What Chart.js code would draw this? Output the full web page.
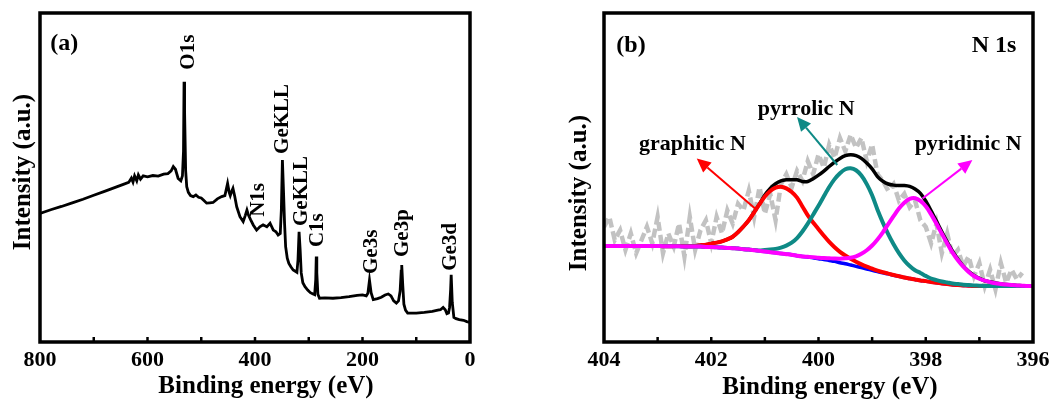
<!DOCTYPE html>
<html><head><meta charset="utf-8">
<script src="https://cdn.jsdelivr.net/npm/chart.js@4.4.0/dist/chart.umd.min.js"></script>
<style>
html,body{margin:0;padding:0;background:#fff;}
#wrap{position:relative;width:1056px;height:405px;background:#fff;}
#ca{position:absolute;left:0;top:0;width:520px;height:405px;}
#cb{position:absolute;left:520px;top:0;width:536px;height:405px;}
</style></head><body>
<div id="wrap">
<canvas id="ca" width="520" height="405"></canvas>
<canvas id="cb" width="536" height="405"></canvas>
</div>
<script>
// ---------- Panel (a): XPS survey ----------
const surveyE = [800,780,760,740,720,700,680,660,645,635,630,627,624,620,617,613,608,600,590,580,570,562,556,552,548,543,538,535,533,532,531,529,527,524,520,515,510,505,500,495,490,484,478,470,462,456,451,448,446,444,441,438,434,428,422,418,415,412,408,403,397,391,385,378,372,366,361,357,353,351,349,347,345,343,340,337,333,329,325,322,320,318,316,314,311,307,302,297,292,289,287,286,285,283,280,270,255,240,225,210,200,193,190,187,184,180,172,165,158,152,147,142,137,133,130,128,127,125,123,120,116,110,100,85,70,60,55,50,46,43,40,38,36,35,33,30,26,20,12,6,0];
const surveyI = [39.1,40.2,41.2,42.3,43.4,44.6,45.8,47.0,47.9,48.5,49.8,48.6,50.5,49.0,50.8,49.5,50.5,50.2,50.6,50.4,51.0,51.2,52.0,53.3,52.5,49.7,49.0,50.5,58.0,79.1,70.0,52.0,47.2,45.5,44.5,44.2,44.7,44.0,43.8,43.0,42.2,42.3,42.4,43.5,44.2,44.5,48.2,45.5,44.5,45.5,46.7,44.5,41.1,38.1,36.6,38.5,40.1,38.5,37.1,35.5,34.0,35.0,35.6,35.0,36.1,34.0,33.5,32.5,33.0,40.0,55.3,46.0,36.0,29.0,25.5,23.9,22.8,21.9,21.5,21.2,25.0,33.5,28.0,21.0,18.0,16.8,15.8,15.0,14.6,14.4,19.0,26.0,21.0,14.5,13.3,13.4,13.3,13.5,13.8,14.2,14.3,14.0,14.8,18.8,15.0,12.9,13.2,13.6,14.3,14.6,14.0,12.5,11.8,12.5,15.5,21.5,23.4,17.0,11.5,9.7,8.8,8.8,8.8,9.0,9.3,9.7,9.8,10.5,9.8,8.6,8.8,10.5,16.0,20.4,12.0,7.5,7.1,6.8,6.6,6.2,6.0];
const surveyPeakNames = ['O1s','GeKLL','N1s','GeKLL','C1s','Ge3s','Ge3p','Ge3d'];
const surveyPeakLabelE = [523,348,394,313,283,184,125,37];
const surveyPeakLabelI = [88.1,67.8,43.2,45.9,34.0,27.4,33.1,28.9];
const surveyTicksMinor = [700,600,500,400,300,200,100];

// ---------- Panel (b): N 1s high resolution ----------
const nE = [404.0,403.9,403.8,403.7,403.6,403.5,403.4,403.3,403.2,403.1,403.0,402.9,402.8,402.7,402.6,402.5,402.4,402.3,402.2,402.1,402.0,401.9,401.8,401.7,401.6,401.5,401.4,401.3,401.2,401.1,401.0,400.9,400.8,400.7,400.6,400.5,400.4,400.3,400.2,400.1,400.0,399.9,399.8,399.7,399.6,399.5,399.4,399.3,399.2,399.1,399.0,398.9,398.8,398.7,398.6,398.5,398.4,398.3,398.2,398.1,398.0,397.9,397.8,397.7,397.6,397.5,397.4,397.3,397.2,397.1,397.0,396.9,396.8,396.7,396.6,396.5,396.4,396.3,396.2,396.1,396.0];
const rawI = [35,38,31,34,28,33,27,31,35,30,38,27,33,29,36,26,38,28,34,37,30,38,33,40,36,42,40,46,38,47,39,45,37,48,51,47,52,49,55,51,57,53,60,56,62,58,63,59,62,55,60,51,49,46,48,43,45,41,43,37,35,30,36,27,33,26,28,23,26,20,24,17,22,16,24,18,22,19,21,null,null];
const bgI = [29.2,29.2,29.2,29.2,29.2,29.2,29.2,29.2,29.2,29.2,29.2,29.1,29.1,29.1,29.1,29.0,29.0,29.0,29.0,28.9,28.9,28.8,28.7,28.6,28.5,28.4,28.2,28.1,27.9,27.7,27.5,27.3,27.1,26.9,26.7,26.5,26.2,26.0,25.8,25.6,25.3,25.1,24.8,24.5,24.1,23.8,23.4,23.0,22.6,22.2,21.8,21.4,21.0,20.7,20.3,20.0,19.6,19.3,19.0,18.7,18.5,18.2,18.0,17.8,17.6,17.4,17.3,17.2,17.1,17.0,17.0,17.0,17.0,17.0,17.0,17.0,17.0,17.0,17.0,17.0,17.0];
const graphiticI = [29.2,29.2,29.2,29.2,29.2,29.2,29.2,29.2,29.2,29.2,29.2,29.1,29.1,29.15,29.2,29.1,29.1,29.2,29.4,29.6,29.9,30.2,30.6,31.2,32.0,33.4,35.1,37.0,39.4,41.9,44.2,45.9,46.9,47.2,46.7,45.6,43.9,41.2,38.5,36.3,34.3,32.3,30.4,28.8,27.4,26.3,25.3,24.4,23.6,22.9,22.3,21.7,21.2,20.8,20.35,20.0,19.6,19.3,19.0,18.7,18.5,18.2,18.0,17.8,17.6,17.4,17.3,17.2,17.1,17.0,17.0,17.0,17.0,17.0,17.0,17.0,17.0,17.0,17.0,17.0,17.0];
const pyrrolicI = [29.2,29.2,29.2,29.2,29.2,29.2,29.2,29.2,29.2,29.2,29.2,29.1,29.1,29.1,29.1,29.0,29.0,29.0,29.0,28.9,28.9,28.8,28.7,28.6,28.5,28.4,28.2,28.1,28.0,27.8,28.0,28.1,28.3,28.7,29.3,30.2,31.6,33.6,36.0,38.7,41.4,44.3,47.1,49.5,51.3,52.5,52.8,52.2,50.6,48.0,44.6,40.2,36.3,32.8,29.7,27.0,24.8,23.1,21.8,21.0,20.1,19.3,18.8,18.4,18.1,17.8,17.6,17.4,17.3,17.2,17.1,17.0,17.0,17.0,17.0,17.0,17.0,17.0,17.0,17.0,17.0];
const pyridinicI = [29.2,29.2,29.2,29.2,29.2,29.2,29.2,29.2,29.2,29.2,29.2,29.1,29.1,29.1,29.1,29.0,29.0,29.0,29.0,28.9,28.9,28.8,28.7,28.6,28.5,28.4,28.2,28.1,27.9,27.7,27.5,27.3,27.1,26.9,26.7,26.5,26.2,26.0,25.9,25.8,25.6,25.55,25.45,25.35,25.31,25.43,25.62,26.06,26.8,27.88,29.33,31.18,33.35,35.82,38.23,40.58,42.35,43.48,43.7,42.88,41.25,38.78,35.93,32.92,29.95,27.18,24.83,22.88,21.3,20.06,19.22,18.63,18.21,17.85,17.65,17.45,17.3,17.2,17.1,17.0,17.0];
const envelopeI = [29.2,29.2,29.2,29.2,29.2,29.2,29.2,29.2,29.2,29.2,29.2,29.1,29.1,29.15,29.2,29.1,29.1,29.2,29.4,29.6,29.9,30.2,30.6,31.2,32.0,33.4,35.1,37.0,39.5,42.0,44.7,46.7,48.1,49.0,49.3,49.3,49.3,48.8,48.8,49.6,50.7,51.95,53.35,54.65,55.81,56.63,56.92,56.66,55.8,54.38,52.63,50.28,48.85,48.02,47.68,47.58,47.55,47.28,46.5,45.18,42.85,39.88,36.73,33.52,30.45,27.58,25.13,23.08,21.5,20.26,19.32,18.63,18.31,17.95,17.65,17.45,17.3,17.2,17.1,17.0,17.0];
const nTicksMinor = [403,402,401,400,399,398,397];

const FONT = '"Liberation Serif","Times New Roman",serif';
const pts = (xs, ys) => xs.map((v, i) => ({x: v, y: ys[i]}));

const decor = {
  id: 'decor',
  afterDatasetsDraw(chart, args, o) {
    const {ctx, chartArea: a, scales: {x, y}} = chart;
    ctx.save();
    ctx.strokeStyle = '#000'; ctx.lineWidth = 2.5;
    for (const v of o.ticks) {
      const px = x.getPixelForValue(v);
      ctx.beginPath(); ctx.moveTo(px, a.bottom); ctx.lineTo(px, a.bottom - o.tickLen); ctx.stroke();
    }
    ctx.lineWidth = 3.5;
    ctx.strokeRect(a.left, a.top, a.right - a.left, a.bottom - a.top);
    for (const ar of (o.arrows || [])) {
      const x0 = x.getPixelForValue(ar.from[0]), y0 = y.getPixelForValue(ar.from[1]);
      const x1 = x.getPixelForValue(ar.to[0]), y1 = y.getPixelForValue(ar.to[1]);
      const ang = Math.atan2(y1 - y0, x1 - x0), hl = 14, hw = 6.5;
      const bx = x1 - hl * Math.cos(ang), by = y1 - hl * Math.sin(ang);
      ctx.strokeStyle = ar.color; ctx.fillStyle = ar.color; ctx.lineWidth = 2;
      ctx.beginPath(); ctx.moveTo(x0, y0); ctx.lineTo(bx, by); ctx.stroke();
      ctx.beginPath(); ctx.moveTo(x1, y1);
      ctx.lineTo(bx + hw * Math.sin(ang), by - hw * Math.cos(ang));
      ctx.lineTo(bx - hw * Math.sin(ang), by + hw * Math.cos(ang));
      ctx.closePath(); ctx.fill();
    }
    for (const l of o.labels) {
      const px = x.getPixelForValue(l.x), py = y.getPixelForValue(l.y);
      ctx.save(); ctx.translate(px, py); if (l.rot) ctx.rotate(l.rot);
      ctx.font = 'bold ' + l.size + 'px ' + FONT; ctx.fillStyle = '#000';
      ctx.textAlign = l.align || 'center'; ctx.textBaseline = l.base || 'middle';
      ctx.fillText(l.text, 0, 0); ctx.restore();
    }
    ctx.fillStyle = '#000';
    ctx.font = 'bold ' + o.titleSize + 'px ' + FONT;
    ctx.textAlign = 'center'; ctx.textBaseline = 'middle';
    ctx.fillText(o.xTitle, o.xTitlePos[0], o.xTitlePos[1]);
    ctx.save(); ctx.translate(o.yTitlePos[0], o.yTitlePos[1]); ctx.rotate(-Math.PI / 2);
    ctx.fillText(o.yTitle, 0, 0); ctx.restore();
    ctx.restore();
  }
};

function baseOptions(xmin, xmax, step, padRight, yWidth, decorOpts) {
  return {
    responsive: false, animation: false, devicePixelRatio: 1,
    layout: {padding: {top: 13, right: padRight, left: 0, bottom: 0}},
    plugins: {legend: {display: false}, tooltip: {enabled: false}, decor: decorOpts},
    elements: {point: {radius: 0}},
    scales: {
      x: {type: 'linear', min: xmin, max: xmax, reverse: true,
          grid: {display: false, drawTicks: false}, border: {display: false},
          ticks: {stepSize: step, padding: 5, color: '#000', maxRotation: 0, autoSkip: false,
                  font: {family: FONT, size: 22, weight: 'bold'}},
          afterFit(s) { s.height = 63; }},
      y: {min: 0, max: 100, grid: {display: false, drawTicks: false}, border: {display: false},
          ticks: {display: false}, afterFit(s) { s.width = yWidth; }}
    }
  };
}

const R = -Math.PI / 2;
new Chart(document.getElementById('ca'), {
  type: 'line',
  data: {datasets: [{data: pts(surveyE, surveyI), borderColor: '#000', borderWidth: 2.8, tension: 0, pointRadius: 0}]},
  options: baseOptions(0, 800, 200, 50, 40, {
    ticks: surveyTicksMinor, tickLen: 5,
    labels: surveyPeakNames.map((t, i) => ({text: t, x: surveyPeakLabelE[i], y: surveyPeakLabelI[i], rot: R, size: 21}))
      .concat([{text: '(a)', x: 781, y: 88.8, size: 24, align: 'left', base: 'alphabetic'}]),
    xTitle: 'Binding energy (eV)', xTitlePos: [266, 387],
    yTitle: 'Intensity (a.u.)', yTitlePos: [24, 172], titleSize: 25
  }),
  plugins: [decor]
});

new Chart(document.getElementById('cb'), {
  type: 'line',
  data: {datasets: [
    {data: pts(nE, rawI), borderColor: '#c2c2c2', borderWidth: 4.5, borderDash: [9, 4], tension: 0, order: 7, spanGaps: false},
    {data: pts(nE, bgI), borderColor: '#0000ff', borderWidth: 3.5, tension: 0.3, order: 6},
    {data: pts(nE, envelopeI), borderColor: '#000000', borderWidth: 3.5, tension: 0.3, order: 5},
    {data: pts(nE, graphiticI), borderColor: '#ff0000', borderWidth: 4, tension: 0.3, order: 4},
    {data: pts(nE, pyrrolicI), borderColor: '#0e8a86', borderWidth: 4, tension: 0.3, order: 3},
    {data: pts(nE, pyridinicI), borderColor: '#ff00ff', borderWidth: 4, tension: 0.3, order: 2}
  ]},
  options: baseOptions(396, 404, 2, 23, 84, {
    ticks: nTicksMinor, tickLen: 5,
    arrows: [
      {from: [401.15, 40.1], to: [402.27, 55.8], color: '#ff0000'},
      {from: [399.65, 53.8], to: [400.40, 68.4], color: '#0e8a86'},
      {from: [398.06, 43.6], to: [397.13, 55.3], color: '#ff00ff'}
    ],
    labels: [
      {text: 'graphitic N', x: 402.35, y: 58.4, size: 22, base: 'alphabetic'},
      {text: 'pyrrolic N', x: 400.23, y: 69.0, size: 22, base: 'alphabetic'},
      {text: 'pyridinic N', x: 397.21, y: 58.4, size: 22, base: 'alphabetic'},
      {text: '(b)', x: 403.77, y: 88.1, size: 24, align: 'left', base: 'alphabetic'},
      {text: 'N 1s', x: 396.31, y: 88.1, size: 24, align: 'right', base: 'alphabetic'}
    ],
    xTitle: 'Binding energy (eV)', xTitlePos: [310, 388],
    yTitle: 'Intensity (a.u.)', yTitlePos: [60, 193], titleSize: 25
  }),
  plugins: [decor]
});
</script>
</body></html>
